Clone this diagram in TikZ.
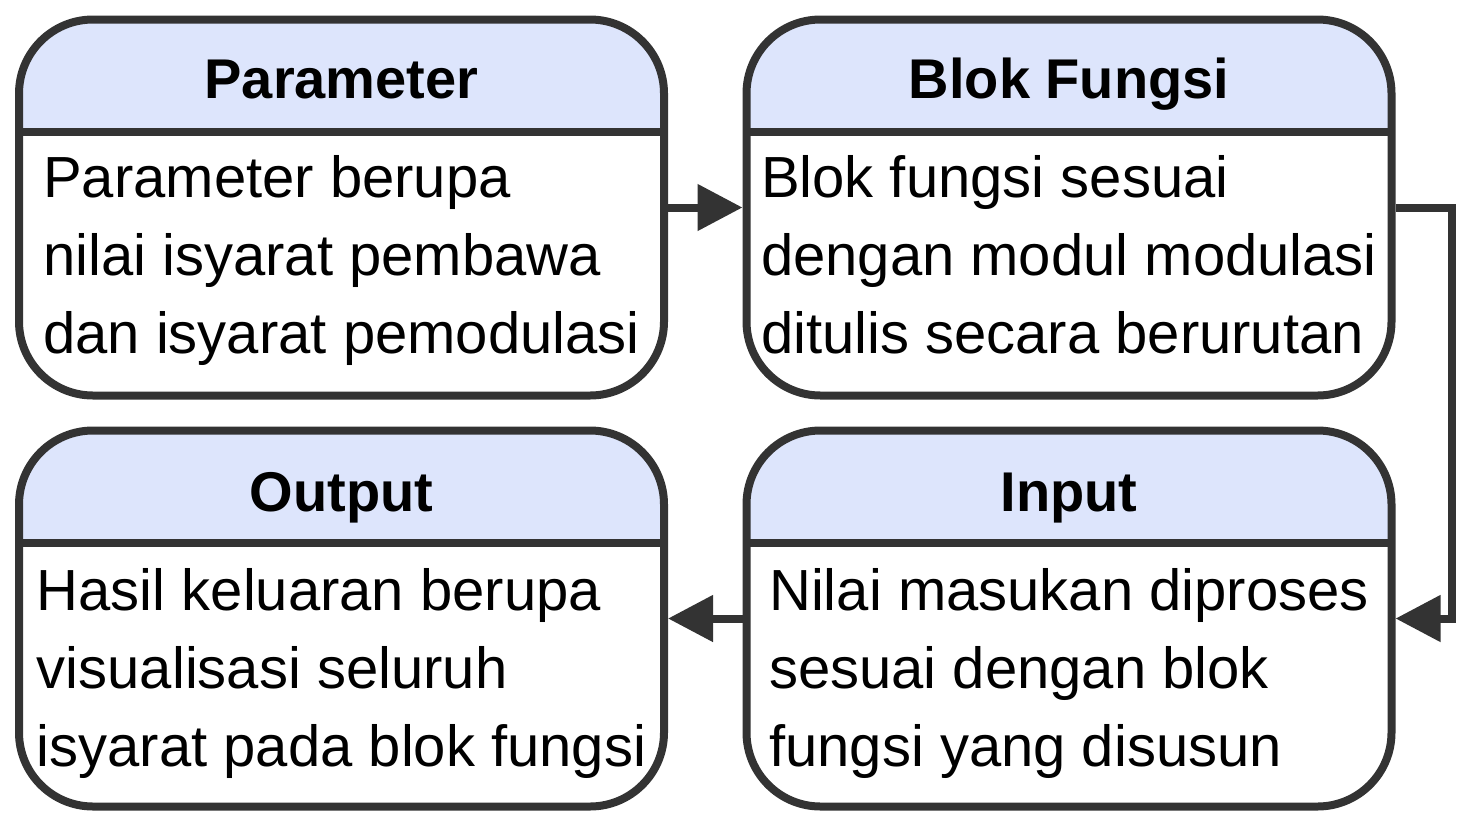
\documentclass[tikz,border=0pt]{standalone}
\usepackage{fontspec}
\setmainfont{Liberation Sans}
\usetikzlibrary{arrows.meta}
\definecolor{linec}{RGB}{51,51,51}
\definecolor{hdr}{RGB}{221,229,252}
\begin{document}
\begin{tikzpicture}[x=1pt,y=-1pt,
  box/.style={draw=linec, line width=8pt, rounded corners=74pt,
    minimum width=645pt, minimum height=376pt, inner sep=0pt,
    path picture={
      \fill[hdr, sharp corners] (path picture bounding box.north west) rectangle ([yshift=-112pt]path picture bounding box.north east);
      \draw[linec, line width=8pt, sharp corners] ([yshift=-112pt]path picture bounding box.north west) -- ([yshift=-112pt]path picture bounding box.north east);
    }},
  title/.style={font=\fontsize{56}{60}\selectfont\bfseries, anchor=base, inner sep=0pt},
  body/.style={font=\fontsize{58}{78}\selectfont, align=left, anchor=base, inner sep=0pt},
  arr/.style={draw=linec, line width=8pt, -{Triangle[length=45pt,width=45pt]}}
]
\useasboundingbox (0,0) rectangle (1474,820);
\node[box] (p) at (341.5,207.5) {};
\node[box] (b) at (1069,207.5) {};
\node[box] (o) at (341.5,618.5) {};
\node[box] (i) at (1069,618.5) {};

\node[title] (pt) at (341.5,98) {Parameter};
\node[title] (bt) at (1069,98) {Blok Fungsi};
\node[title] (ot) at (341.5,511) {Output};
\node[title] (it) at (1069,511) {Input};

\node[body] (pb) at (341.5,353) {Parameter berupa\\nilai isyarat pembawa\\dan isyarat pemodulasi};
\node[body] (bb) at (1069,353) {Blok fungsi sesuai\\dengan modul modulasi\\ditulis secara berurutan};
\node[body] (ob) at (341.5,766) {Hasil keluaran berupa\\visualisasi seluruh\\isyarat pada blok fungsi};
\node[body] (ib) at (1069,766) {Nilai masukan diproses\\sesuai dengan blok\\fungsi yang disusun};

\coordinate (r) at (1452,618.5);
\draw[arr] (p.east) -- (b.west);
\draw[arr] (b.east) -| (r) -- (i.east);
\draw[arr] (i.west) -- (o.east);
\end{tikzpicture}
\end{document}
